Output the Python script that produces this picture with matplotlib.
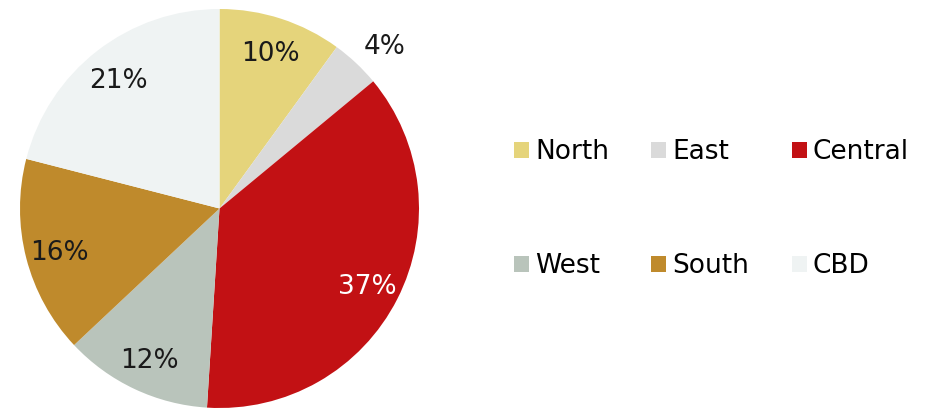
import matplotlib.pyplot as plt
import numpy as np

plt.rcParams["font.family"] = "DejaVu Sans"

regions = ["North", "East", "Central", "West", "South", "CBD"]
shares = [10, 4, 37, 12, 16, 21]
colors = ["#E5D47B", "#DADADA", "#C21114", "#B9C4BB", "#BF8A2C", "#EFF3F3"]
label_colors = ["#1a1a1a", "#1a1a1a", "white", "#1a1a1a", "#1a1a1a", "#1a1a1a"]

fig = plt.figure(figsize=(9.26, 4.08), dpi=100)
ax = fig.add_axes([20 / 926, 0 / 408, 399 / 926, 399 / 408])

wedges, texts, autotexts = ax.pie(
    shares,
    colors=colors,
    startangle=90,
    counterclock=False,
    radius=1,
    autopct="%.0f%%",
    pctdistance=0.83,
    wedgeprops=dict(linewidth=0),
    textprops=dict(fontsize=19),
)
for t, c in zip(autotexts, label_colors):
    t.set_color(c)
    t.set_va("center_baseline")

# small East slice gets its label outside the pie
w = wedges[1]
mid = np.deg2rad((w.theta1 + w.theta2) / 2 - 2)
autotexts[1].set_position((1.17 * np.cos(mid), 1.17 * np.sin(mid)))

ax.set_xlim(-1, 1)
ax.set_ylim(-1, 1)
ax.set_aspect("equal")
ax.axis("off")

# legend filled column-wise, reorder so rows read North/East/Central, West/South/CBD
order = [0, 3, 1, 4, 2, 5]
fig.legend(
    [wedges[i] for i in order],
    [regions[i] for i in order],
    ncol=3,
    loc="upper left",
    bbox_to_anchor=(514 / 926, 1 - 139 / 408),
    frameon=False,
    fontsize=19,
    handlelength=0.57,
    handleheight=0.57,
    handletextpad=0.23,
    columnspacing=1.6,
    labelspacing=3.35,
    borderpad=0,
    borderaxespad=0,
)

plt.savefig("out.png", dpi=100)
